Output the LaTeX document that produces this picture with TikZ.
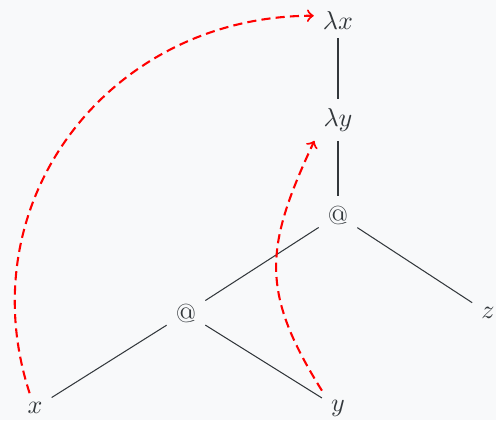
\documentclass[tikz,border=0pt]{standalone}
\usetikzlibrary{arrows, positioning}
\definecolor{bgcol}{HTML}{F8F9FA}
\definecolor{ink}{HTML}{33383C}
\definecolor{backred}{HTML}{FF0000}

\begin{document}
\begin{tikzpicture}[
    x=1.35cm, y=1.35cm,
    every node/.style={text=ink},
    edge/.style={ink, line width=0.4pt},
    back/.style={->, backred, thick, dash pattern=on 3.5pt off 2pt},
]
\useasboundingbox (0,0) rectangle (4.96,4.20);
\fill[bgcol] (0,0) rectangle (4.96,4.20);
\node (lx) at (3.38,4.00) {$\lambda x$};
\node (ly) at (3.38,3.00) {$\lambda y$};
\node (app1) at (3.38,2.05) {@};
\node (app2) at (1.86,1.07) {@};
\node (z) at (4.88,1.07) {$z$};
\node (x) at (0.35,0.12) {$x$};
\node (y) at (3.38,0.12) {$y$};
\draw[edge] (lx) -- (ly);
\draw[edge] (ly) -- (app1);
\draw[edge] (app1) -- (app2);
\draw[edge] (app1) -- (z);
\draw[edge] (app2) -- (x);
\draw[edge] (app2) -- (y);
% binding arrows
\draw[back] (x.110) to[out=108, in=180, looseness=1.1] (lx.170);
\draw[back] (y.north west) to[out=122, in=245, looseness=1.2] (ly.south west);
\end{tikzpicture}
\end{document}
